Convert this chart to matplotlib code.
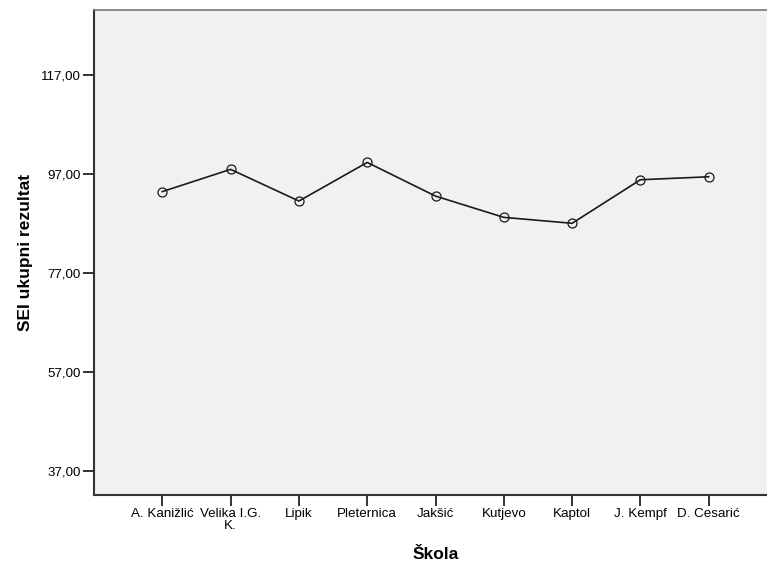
import matplotlib.pyplot as plt

# Podaci
skole = ["A. Kanižlić", "Velika I.G.\nK.", "Lipik", "Pleternica", "Jakšić",
         "Kutjevo", "Kaptol", "J. Kempf", "D. Cesarić"]
rezultat = [93.4, 97.9, 91.5, 99.3, 92.5, 88.2, 87.0, 95.8, 96.4]
yticks = [37, 57, 77, 97, 117]

plt.rcParams['font.family'] = ['Liberation Sans', 'DejaVu Sans']

fig = plt.figure(figsize=(7.67, 5.65), dpi=100)
# desni rub osi izlazi malo izvan slike, kao na originalu
ax = fig.add_axes([94 / 767, 1 - 495 / 565, (777 - 94) / 767, (495 - 10) / 565])
ax.set_facecolor("#f1f1f1")

x = list(range(len(skole)))
ax.plot(x, rezultat, color="#1a1a1a", linewidth=1.2,
        marker="o", markersize=6.5, markerfacecolor="none",
        markeredgecolor="#1a1a1a", markeredgewidth=0.9)

ax.set_xlim(-1, 9)
ax.set_ylim(32.1, 130.1)
ax.set_xticks(x)
ax.set_xticklabels(skole, fontsize=9.6, linespacing=0.95)
ax.set_yticks(yticks)
ax.set_yticklabels(["{:.2f}".format(v).replace(".", ",") for v in yticks], fontsize=9.6)
ax.tick_params(length=8, width=1.4, color="#333333", pad=1.5)

for side in ["left", "bottom"]:
    ax.spines[side].set_linewidth(1.5)
    ax.spines[side].set_color("#333333")
ax.spines["top"].set_linewidth(1.2)
ax.spines["top"].set_color("#777777")
ax.spines["right"].set_visible(False)

ax.set_xlabel("Škola", fontsize=12.5, fontweight="bold", labelpad=11)
ax.set_ylabel("SEI ukupni rezultat", fontsize=12.5, fontweight="bold", labelpad=6)

plt.savefig("out.png", dpi=100)
